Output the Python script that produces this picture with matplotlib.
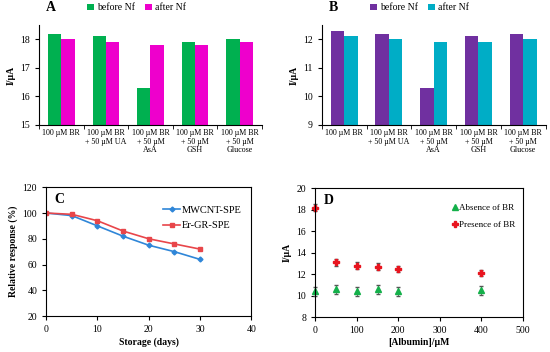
import matplotlib
matplotlib.use("Agg")
import matplotlib.pyplot as plt
from matplotlib.lines import Line2D
import numpy as np

plt.rcParams['font.family'] = ['Liberation Serif', 'DejaVu Serif']

# --- panel A / B data ---
kategorie = ["100 µM BR", "100 µM BR\n+ 50 µM UA", "100 µM BR\n+ 50 µM\nAsA",
             "100 µM BR\n+ 50 µM\nGSH", "100 µM BR\n+ 50 µM\nGlucose"]
a_przed = [18.2, 18.1, 16.3, 17.9, 18.0]
a_po = [18.0, 17.9, 17.8, 17.8, 17.9]
b_przed = [12.3, 12.2, 10.3, 12.1, 12.2]
b_po = [12.1, 12.0, 11.9, 11.9, 12.0]

# --- panel C data ---
dni = [0, 5, 10, 15, 20, 25, 30]
mwcnt = [100, 98, 90, 82, 75, 70, 64]
ergr = [100, 99, 94, 86, 80, 76, 72]

# --- panel D data ---
albumina = [0, 50, 100, 150, 200, 400]
bez_br = [10.4, 10.6, 10.4, 10.6, 10.4, 10.5]
bez_br_err = [0.4, 0.4, 0.4, 0.4, 0.4, 0.4]
z_br = [18.2, 13.1, 12.8, 12.7, 12.5, 12.1]
z_br_err = [0.3, 0.3, 0.3, 0.3, 0.3, 0.3]


def slupki(ax, przed, po, kol1, kol2, ylim, litera, yticks):
    x = np.arange(len(kategorie))
    w = 0.3
    ax.bar(x - w / 2, przed, w, color=kol1, label="before Nf")
    ax.bar(x + w / 2, po, w, color=kol2, label="after Nf")
    ax.set_ylim(*ylim)
    ax.set_xlim(-0.5, len(kategorie) - 0.5)
    ax.set_yticks(yticks)
    ax.set_xticks(x)
    ax.set_xticklabels(kategorie, fontsize=5.8, linespacing=1.1)
    ax.set_xticks(np.arange(len(kategorie) + 1) - 0.5, minor=True)
    ax.tick_params(axis='x', which='major', length=0, pad=3)
    ax.tick_params(axis='x', which='minor', length=3, direction='out')
    ax.tick_params(axis='y', labelsize=7, length=3, direction='out')
    for s in ['top', 'right']:
        ax.spines[s].set_visible(False)
    ax.set_ylabel("I/µA", fontsize=7, fontweight='bold', labelpad=3)
    ax.legend(loc='center left', bbox_to_anchor=(0.2, 1.17), ncol=2, frameon=False,
              fontsize=7, handlelength=0.7, handleheight=0.7, handletextpad=0.3,
              columnspacing=1.0, borderaxespad=0.0)
    ax.text(0.03, 1.17, litera, transform=ax.transAxes, fontsize=10,
            fontweight='bold', va='center')


fig = plt.figure(figsize=(5.5, 3.52), dpi=100)

axA = fig.add_axes([0.071, 0.645, 0.405, 0.284])
slupki(axA, a_przed, a_po, '#00B050', '#EE00CC', (15, 18.5), "A", [15, 16, 17, 18])

axB = fig.add_axes([0.585, 0.645, 0.407, 0.284])
slupki(axB, b_przed, b_po, '#7030A0', '#00ADC6', (9, 12.5), "B", [9, 10, 11, 12])

# --- C ---
axC = fig.add_axes([0.084, 0.102, 0.373, 0.366])
axC.plot(dni, mwcnt, color='#2F86D8', marker='D', markersize=2.5, lw=1.2, label="MWCNT-SPE")
axC.plot(dni, ergr, color='#E8464A', marker='s', markersize=3.5, lw=1.2, label="Er-GR-SPE")
axC.set_xlim(0, 40)
axC.set_ylim(20, 120)
axC.set_xticks([0, 10, 20, 30, 40])
axC.set_yticks([20, 40, 60, 80, 100, 120])
axC.tick_params(labelsize=7, length=3, direction='out')
axC.set_xlabel("Storage (days)", fontsize=7, fontweight='bold', labelpad=2)
axC.set_ylabel("Relative response (%)", fontsize=7, fontweight='bold', labelpad=3)
axC.legend(loc='upper right', bbox_to_anchor=(1.0, 0.93), frameon=False, fontsize=7.5,
           handlelength=1.6, handletextpad=0.2, labelspacing=0.6)
axC.text(0.04, 0.88, "C", transform=axC.transAxes, fontsize=10, fontweight='bold')

# --- D ---
axD = fig.add_axes([0.573, 0.099, 0.378, 0.366])
axD.errorbar(albumina, bez_br, yerr=bez_br_err, fmt='^', color='#14B04A', ecolor='#555555',
             markersize=4, capsize=1.5, elinewidth=0.6, clip_on=False)
axD.errorbar(albumina, z_br, yerr=z_br_err, fmt='P', color='#E8141E', ecolor='#555555',
             markersize=4, capsize=1.5, elinewidth=0.6, clip_on=False)
axD.set_xlim(0, 500)
axD.set_ylim(8, 20)
axD.set_xticks([0, 100, 200, 300, 400, 500])
axD.set_yticks([8, 10, 12, 14, 16, 18, 20])
axD.tick_params(labelsize=7, length=3, direction='out')
axD.set_xlabel("[Albumin]/µM", fontsize=7, fontweight='bold', labelpad=2)
axD.set_ylabel("I/µA", fontsize=7, fontweight='bold', labelpad=3)
uchwyty = [Line2D([], [], ls='', marker='^', color='#14B04A', markersize=4),
           Line2D([], [], ls='', marker='P', color='#E8141E', markersize=4)]
axD.legend(uchwyty, ["Absence of BR", "Presence of BR"], loc='upper left',
           bbox_to_anchor=(0.62, 0.94), frameon=False, fontsize=6.5,
           handlelength=0.6, handletextpad=0.2, labelspacing=0.9)
axD.text(0.04, 0.88, "D", transform=axD.transAxes, fontsize=10, fontweight='bold')

fig.savefig("out.png", dpi=100)
